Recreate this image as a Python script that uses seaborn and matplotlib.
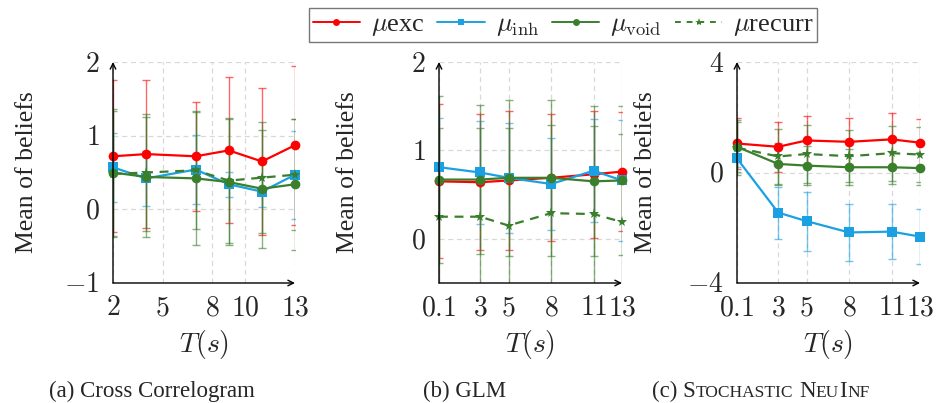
import numpy as np
import pandas as pd
import matplotlib
matplotlib.use("Agg")
import matplotlib.pyplot as plt
import seaborn as sns
from matplotlib.lines import Line2D

# -----------------------------------------
# DATA
# -----------------------------------------

x_cc = [2, 4, 7, 9, 11, 13]
x_glm = [0.1, 3, 5, 8, 11, 13]
x_sn = [0.1, 3, 5, 8, 11, 13]

# (a) Cross Correlogram
cc_exc = [0.72, 0.75, 0.72, 0.80, 0.65, 0.87]
cc_exc_err = [1.03, 1.01, 0.74, 0.99, 1.00, 1.08]
cc_inh = [0.57, 0.42, 0.54, 0.34, 0.24, 0.47]
cc_inh_err = [0.47, 0.37, 0.47, 0.17, 0.21, 0.60]
cc_void = [0.50, 0.44, 0.42, 0.37, 0.28, 0.34]
cc_void_err = [0.86, 0.82, 0.90, 0.86, 0.80, 0.89]
cc_rec = [0.48, 0.50, 0.53, 0.39, 0.43, 0.47]
cc_rec_err = [0.85, 0.80, 0.80, 0.85, 0.75, 0.75]

# (b) GLM
glm_exc = [0.65, 0.64, 0.66, 0.69, 0.73, 0.76]
glm_exc_err = [0.87, 0.77, 0.79, 0.72, 0.72, 0.67]
glm_inh = [0.81, 0.75, 0.69, 0.62, 0.77, 0.66]
glm_inh_err = [0.56, 0.58, 0.62, 0.52, 0.58, 0.68]
glm_void = [0.67, 0.67, 0.69, 0.69, 0.65, 0.66]
glm_void_err = [0.94, 0.84, 0.88, 0.88, 0.85, 0.84]
glm_rec = [0.25, 0.25, 0.15, 0.29, 0.28, 0.19]
glm_rec_err = [1.00, 1.00, 1.10, 1.00, 1.00, 1.00]

# (c) Stochastic NeuInf
sn_exc = [1.05, 0.93, 1.16, 1.11, 1.20, 1.08]
sn_exc_err = [0.91, 0.91, 0.87, 0.85, 0.95, 0.84]
sn_inh = [0.51, -1.45, -1.76, -2.17, -2.14, -2.32]
sn_inh_err = [0.30, 0.94, 1.07, 1.04, 0.99, 1.01]
sn_void = [0.93, 0.31, 0.25, 0.19, 0.19, 0.16]
sn_void_err = [0.90, 0.75, 0.70, 0.65, 0.60, 0.60]
sn_rec = [0.90, 0.58, 0.67, 0.59, 0.70, 0.65]
sn_rec_err = [1.00, 1.00, 1.05, 0.95, 1.00, 1.00]

# ticks / labels
xticks_cc = [2, 5, 8, 10, 13]
xticks_glm = [0.1, 3, 5, 8, 11, 13]
xlabels_cc = ["$2$", "$5$", "$8$", "$10$", "$13$"]
xlabels_glm = ["$0.1$", "$3$", "$5$", "$8$", "$11$", "$13$"]
yticks_cc = [-1, 0, 1, 2]
ylabels_cc = ["$-1$", "$0$", "$1$", "$2$"]
yticks_glm = [0, 1, 2]
ylabels_glm = ["$0$", "$1$", "$2$"]
yticks_sn = [-4, 0, 4]
ylabels_sn = ["$-4$", "$0$", "$4$"]

series_names = [r"$\mu$exc", r"$\mu_{\mathrm{inh}}$", r"$\mu_{\mathrm{void}}$", r"$\mu$recurr"]

# -----------------------------------------
# STYLE
# -----------------------------------------

sns.set_style("white")
plt.rcParams["font.family"] = ["Liberation Serif", "DejaVu Serif"]
plt.rcParams["mathtext.fontset"] = "cm"

RED = "#ff0000"
BLUE = "#1ba1e2"
GREEN = "#3a7f2c"

styles = [
    dict(color=RED, marker="o", ls="-", ms=7),
    dict(color=BLUE, marker="s", ls="-", ms=7),
    dict(color=GREEN, marker="o", ls="-", ms=7),
    dict(color=GREEN, marker="*", ls="--", ms=8),
]

fig = plt.figure(figsize=(9.36, 4.03), dpi=100)

axes_pos = [
    [113 / 936, 1 - 283 / 403, 182 / 936, 221 / 403],
    [439 / 936, 1 - 283 / 403, 183 / 936, 221 / 403],
    [737 / 936, 1 - 283 / 403, 183 / 936, 221 / 403],
]

panels = [
    dict(x=x_cc, series=[(cc_exc, cc_exc_err), (cc_inh, cc_inh_err), (cc_void, cc_void_err), (cc_rec, cc_rec_err)],
         xlim=(2, 13), ylim=(-1, 2), xt=xticks_cc, xl=xlabels_cc, yt=yticks_cc, yl=ylabels_cc, ylab_x=-0.47),
    dict(x=x_glm, series=[(glm_exc, glm_exc_err), (glm_inh, glm_inh_err), (glm_void, glm_void_err), (glm_rec, glm_rec_err)],
         xlim=(0.1, 13), ylim=(-0.5, 2), xt=xticks_glm, xl=xlabels_glm, yt=yticks_glm, yl=ylabels_glm, ylab_x=-0.5),
    dict(x=x_sn, series=[(sn_exc, sn_exc_err), (sn_inh, sn_inh_err), (sn_void, sn_void_err), (sn_rec, sn_rec_err)],
         xlim=(0.1, 13), ylim=(-4, 4), xt=xticks_glm, xl=xlabels_glm, yt=yticks_sn, yl=ylabels_sn, ylab_x=-0.5),
]

for pos, p in zip(axes_pos, panels):
    ax = fig.add_axes(pos)
    for (vals, errs), st in zip(p["series"], styles):
        ax.errorbar(p["x"], vals, yerr=errs, fmt="none", ecolor=st["color"],
                    alpha=0.6, elinewidth=1.0, capsize=3, capthick=1.0, zorder=2)
    for (vals, errs), st in zip(p["series"], styles):
        df = pd.DataFrame({"T": p["x"], "mean": vals})
        sns.lineplot(data=df, x="T", y="mean", ax=ax, color=st["color"],
                     marker=st["marker"], markersize=st["ms"], markeredgewidth=0,
                     linestyle=st["ls"], linewidth=1.6, clip_on=False, zorder=3)
        if st["ls"] == "--":
            ax.lines[-1].set_dashes((4, 3))

    ax.set_xlim(*p["xlim"])
    ax.set_ylim(*p["ylim"])
    ax.set_xticks(p["xt"])
    ax.set_xticklabels(p["xl"])
    ax.set_yticks(p["yt"])
    ax.set_yticklabels(p["yl"])
    ax.tick_params(labelsize=20, direction="inout", length=5, width=0.8, color="#888888", pad=7)
    ax.grid(True, color="#d8d8d8", linestyle=(0, (4, 3)), linewidth=0.9)
    for s in ax.spines.values():
        s.set_visible(False)
    ax.annotate("", xy=(1, 0), xytext=(0, 0), xycoords="axes fraction",
                arrowprops=dict(arrowstyle="->", lw=1.0, color="black", shrinkA=0, shrinkB=0))
    ax.annotate("", xy=(0, 1), xytext=(0, 0), xycoords="axes fraction",
                arrowprops=dict(arrowstyle="->", lw=1.0, color="black", shrinkA=0, shrinkB=0))
    ax.set_xlabel("$T(s)$", fontsize=20, va="center")
    ax.xaxis.set_label_coords(0.5, -0.28)
    ax.set_ylabel("Mean of beliefs", fontsize=18.5, va="center")
    ax.yaxis.set_label_coords(p["ylab_x"], 0.5)

# legend
handles = [Line2D([0], [0], color=st["color"], marker=st["marker"], ls=st["ls"], lw=1.4,
                  markersize=5 if st["marker"] != "*" else 6, markeredgewidth=0) for st in styles]
handles[3].set_dashes((3, 3))
leg = fig.legend(handles, series_names, loc="center", bbox_to_anchor=(563 / 936, 1 - 25 / 403),
                 ncol=4, fontsize=19, frameon=True, fancybox=False, edgecolor="#555555",
                 handlelength=1.8, handletextpad=0.4, columnspacing=0.5, borderpad=0.15,
                 borderaxespad=0)
leg.get_frame().set_linewidth(1.0)

# captions
yb = 1 - 397 / 403
fig.text(152 / 936, yb, "(a) Cross Correlogram", fontsize=16.5, ha="center", va="baseline")
fig.text(465 / 936, yb, "(b) GLM", fontsize=16.5, ha="center", va="baseline")

pieces = [("(c) S", 16.5, 0), ("TOCHASTIC", 12.5, 0), ("N", 16.5, 4), ("EU", 12.5, 0), ("I", 16.5, 0.3), ("NF", 12.5, 0.3)]
prev = fig.text(652 / 936, yb, pieces[0][0], fontsize=pieces[0][1], ha="left", va="baseline")
for txt, fs, gap in pieces[1:]:
    prev = fig.axes[2].annotate(txt, xy=(1, yb), xycoords=(prev, "figure fraction"),
                                xytext=(gap, 0), textcoords="offset points",
                                fontsize=fs, ha="left", va="baseline", annotation_clip=False)

fig.savefig("out.png", dpi=100)
